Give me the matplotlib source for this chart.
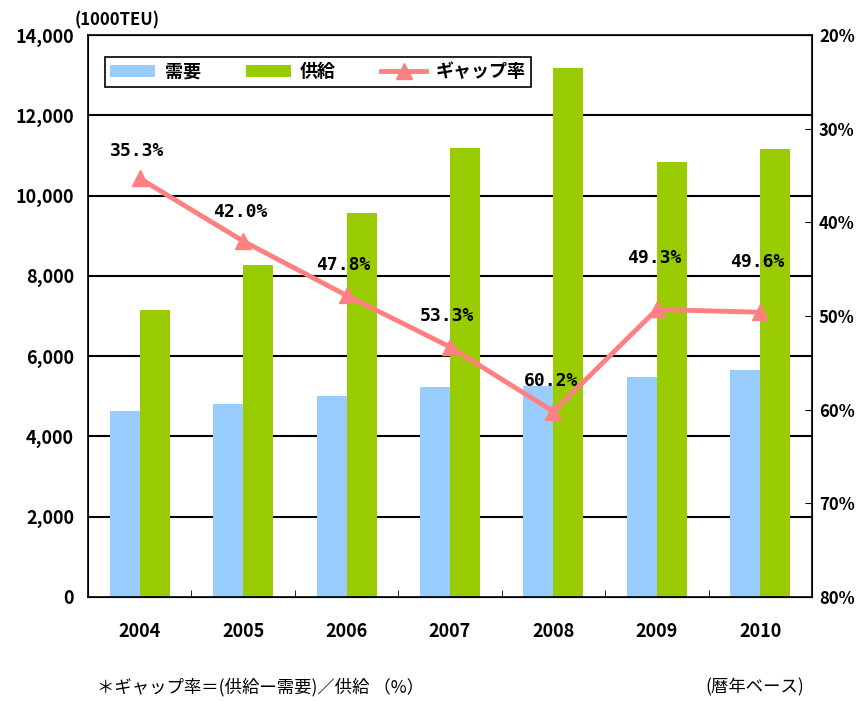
import numpy as np
import matplotlib
matplotlib.use("Agg")
import matplotlib.pyplot as plt

plt.rcParams['font.family'] = ['Noto Sans CJK JP', 'DejaVu Sans']

# daten
jahre = ["2004", "2005", "2006", "2007", "2008", "2009", "2010"]
nachfrage = [4630, 4810, 5010, 5230, 5250, 5490, 5650]
angebot = [7150, 8270, 9570, 11190, 13190, 10840, 11160]
luecke = [35.3, 42.0, 47.8, 53.3, 60.2, 49.3, 49.6]

blau = "#99CCFF"
gruen = "#99CC00"
rot = "#FF8080"

fig = plt.figure(figsize=(8.62, 7.01), dpi=100)
ax = fig.add_axes([0.102, 0.1484, 0.840, 0.8016])
x = np.arange(len(jahre))
w = 0.29

ax.bar(x - w / 2, nachfrage, w, color=blau, label="需要", zorder=2)
ax.bar(x + w / 2, angebot, w, color=gruen, label="供給", zorder=2)
ax.set_xlim(-0.5, len(jahre) - 0.5)
ax.set_ylim(0, 14000)
ax.set_yticks(np.arange(0, 14001, 2000))
ax.set_yticklabels([f"{v:,}" for v in range(0, 14001, 2000)], fontsize=13, fontweight="bold")
ax.set_xticks(x)
ax.set_xticklabels(jahre, fontsize=13, fontweight="bold")
ax.tick_params(axis="x", length=0, pad=18)
ax.set_xticks(np.arange(-0.5, len(jahre)), minor=True)
ax.tick_params(axis="x", which="minor", direction="in", length=5)
ax.tick_params(axis="y", direction="in", length=0, pad=10)
for v in range(2000, 14001, 2000):
    ax.axhline(v, color="black", lw=1.5, zorder=1)
for s in ax.spines.values():
    s.set_linewidth(1.2)

ax2 = ax.twinx()
ax2.plot(x, luecke, color=rot, lw=3.5, marker="^", markersize=11, label="ギャップ率", zorder=3)
ax2.set_ylim(80, 20)
ax2.set_yticks(np.arange(20, 81, 10))
ax2.set_yticklabels([f"{v}%" for v in range(20, 81, 10)], fontsize=12, fontweight="bold")
ax2.tick_params(axis="y", direction="in", length=5, pad=5)

# abstand der beschriftung ueber dem punkt (in punkt)
versatz = [20, 21, 22, 22, 22, 37, 36]
for xi, yi, d in zip(x, luecke, versatz):
    ax2.annotate(f"{yi:.1f}%", (xi, yi), xytext=(-2, d), textcoords="offset points",
                 ha="center", va="center", fontsize=13, fontweight="bold", family="DejaVu Sans Mono")

h1, l1 = ax.get_legend_handles_labels()
h2, l2 = ax2.get_legend_handles_labels()
leg = ax2.legend(h1 + h2, l1 + l2, ncol=3, loc="upper left", bbox_to_anchor=(0.0235, 0.961),
                 borderaxespad=0, frameon=True, fancybox=False, edgecolor="black", framealpha=1,
                 prop={"weight": "bold", "size": 13}, columnspacing=2.5, handlelength=2.5,
                 handletextpad=0.5, borderpad=0.3)
leg.get_frame().set_linewidth(1.2)

fig.text(0.087, 0.963, "(1000TEU)", fontsize=12, fontweight="bold")
fig.text(0.112, 0.012, "＊ギャップ率＝(供給ー需要)／供給 （%）", fontsize=12.5)
fig.text(0.818, 0.012, "(暦年ベース)", fontsize=12.5)

fig.savefig("out.png")
